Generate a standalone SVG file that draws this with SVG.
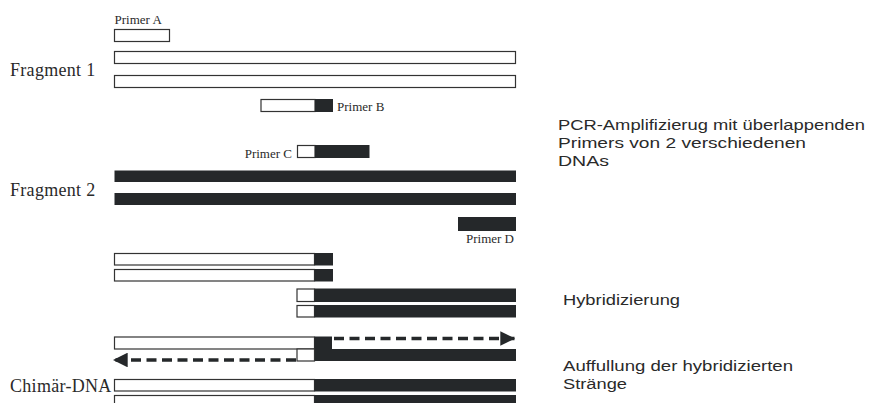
<svg xmlns="http://www.w3.org/2000/svg" width="874" height="403" viewBox="0 0 874 403">
  <style>
    .lbl { font-family: "Liberation Serif", "Times New Roman", serif; fill: #2a2a2a; }
    .big { font-size: 18px; letter-spacing: 0.3px; }
    .small { font-size: 13px; }
    .note { font-family: "Liberation Sans", Arial, sans-serif; font-size: 15.5px; fill: #2a2a2a; }
    .w { fill: #ffffff; stroke: #333333; stroke-width: 1.2; }
    .k { fill: #25282a; }
    .dash { fill: none; stroke: #25282a; stroke-width: 3.5; stroke-dasharray: 10 5.5; }
  </style>
  <defs>
    <marker id="head" viewBox="0 0 10 10" refX="10" refY="5" markerWidth="4.4" markerHeight="4.2" markerUnits="strokeWidth" orient="auto">
      <path d="M0,0 L10,5 L0,10 Z" fill="#25282a"/>
    </marker>
  </defs>
  <rect width="874" height="403" fill="#ffffff"/>

  <!-- Fragment 1 with primers A and B -->
  <g id="fragment1">
    <text class="lbl big" x="10" y="76">Fragment 1</text>
    <rect class="w" x="114.5" y="51.5" width="401" height="12"/>
    <rect class="w" x="114.5" y="75.5" width="401" height="12"/>
  </g>
  <g id="primerA">
    <text class="lbl small" x="114.5" y="24">Primer A</text>
    <rect class="w" x="114.5" y="29.5" width="55" height="12"/>
  </g>
  <g id="primerB">
    <rect class="w" x="261" y="99.5" width="54" height="12"/>
    <rect class="k" x="315" y="99" width="18" height="13"/>
    <text class="lbl small" x="337" y="111">Primer B</text>
  </g>

  <!-- Fragment 2 with primers C and D -->
  <g id="primerC">
    <text class="lbl small" x="292" y="157.5" text-anchor="end">Primer C</text>
    <rect class="w" x="297.5" y="145.5" width="17.5" height="12"/>
    <rect class="k" x="315" y="145" width="54.5" height="13"/>
  </g>
  <g id="fragment2">
    <text class="lbl big" x="10" y="196">Fragment 2</text>
    <rect class="k" x="114.5" y="170.5" width="401.5" height="11.5"/>
    <rect class="k" x="114.5" y="193" width="401.5" height="12"/>
  </g>
  <g id="primerD">
    <rect class="k" x="458" y="217" width="58" height="14"/>
    <text class="lbl small" x="514" y="243" text-anchor="end">Primer D</text>
  </g>

  <!-- PCR products -->
  <g id="product1">
    <rect class="w" x="114.5" y="253.5" width="200" height="11.5"/>
    <rect class="k" x="314.5" y="253" width="18.5" height="12.5"/>
    <rect class="w" x="114.5" y="269.5" width="200" height="11.5"/>
    <rect class="k" x="314.5" y="269" width="18.5" height="12.5"/>
  </g>
  <g id="product2">
    <rect class="w" x="297" y="289" width="17.5" height="12.5"/>
    <rect class="k" x="314.5" y="288.5" width="201.5" height="13.5"/>
    <rect class="w" x="297" y="305.5" width="17.5" height="11.5"/>
    <rect class="k" x="314.5" y="305" width="201.5" height="12.5"/>
  </g>

  <!-- Hybridised strands -->
  <g id="hybrid">
    <rect class="w" x="114.5" y="337" width="200" height="12"/>
    <path class="k" d="M314.5,336.5 H332 V349 H516 V361 H314.5 Z"/>
    <rect class="w" x="297" y="349" width="17.5" height="12"/>
  </g>

  <!-- Chimeric DNA -->
  <g id="chimera">
    <text class="lbl big" x="10" y="392">Chimär-DNA</text>
    <rect class="w" x="114.5" y="379.5" width="200" height="11.5"/>
    <rect class="k" x="314.5" y="379" width="201.5" height="12.5"/>
    <rect class="w" x="114.5" y="395.5" width="200" height="12"/>
    <rect class="k" x="314.5" y="395" width="201.5" height="13"/>
  </g>

  <!-- Fill-in extension connectors -->
  <g id="connectors">
    <path class="dash" d="M334,338.5 H515" marker-end="url(#head)"/>
    <path class="dash" d="M296,360 H113" marker-end="url(#head)"/>
  </g>

  <!-- Step notes (glyphs widened to the column width) -->
  <g id="notes">
    <text class="note" x="558" y="130" textLength="307" lengthAdjust="spacingAndGlyphs">PCR-Amplifizierug mit überlappenden</text>
    <text class="note" x="558" y="148" textLength="248" lengthAdjust="spacingAndGlyphs">Primers von 2 verschiedenen</text>
    <text class="note" x="558" y="166" textLength="51" lengthAdjust="spacingAndGlyphs">DNAs</text>
    <text class="note" x="563" y="305" textLength="117" lengthAdjust="spacingAndGlyphs">Hybridizierung</text>
    <text class="note" x="563" y="371" textLength="230" lengthAdjust="spacingAndGlyphs">Auffullung der hybridizierten</text>
    <text class="note" x="563" y="389" textLength="64" lengthAdjust="spacingAndGlyphs">Stränge</text>
  </g>
</svg>
